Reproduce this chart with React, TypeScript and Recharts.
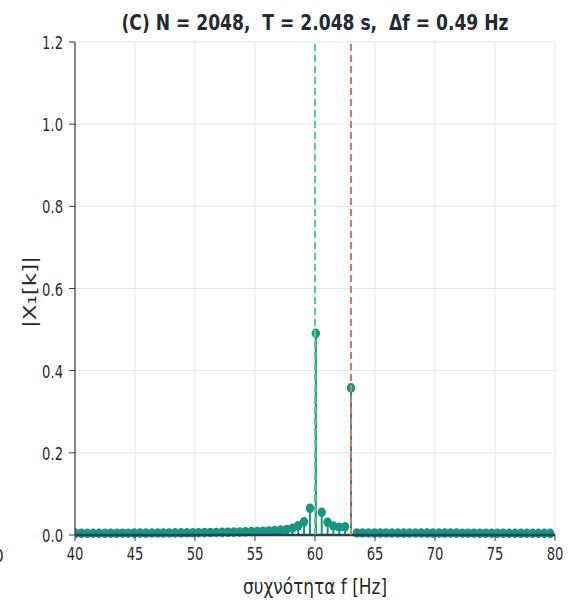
import React from "react";
import {
  ComposedChart,
  Bar,
  XAxis,
  YAxis,
  CartesianGrid,
  ReferenceLine,
} from "recharts";

// frequency bins (Δf = 0.488 Hz) between 40 and 80 Hz
const freqs = [
  40.04, 40.53, 41.02, 41.5, 41.99, 42.48, 42.97, 43.46, 43.95, 44.43,
  44.92, 45.41, 45.9, 46.39, 46.88, 47.36, 47.85, 48.34, 48.83, 49.32,
  49.8, 50.29, 50.78, 51.27, 51.76, 52.25, 52.73, 53.22, 53.71, 54.2,
  54.69, 55.18, 55.66, 56.15, 56.64, 57.13, 57.62, 58.11, 58.59, 59.08,
  59.57, 60.06, 60.55, 61.04, 61.52, 62.01, 62.5, 62.99, 63.48, 63.96,
  64.45, 64.94, 65.43, 65.92, 66.41, 66.89, 67.38, 67.87, 68.36, 68.85,
  69.34, 69.82, 70.31, 70.8, 71.29, 71.78, 72.27, 72.75, 73.24, 73.73,
  74.22, 74.71, 75.2, 75.68, 76.17, 76.66, 77.15, 77.64, 78.13, 78.61,
  79.1, 79.59,
];

// |X1[k]|
const mags = [
  0.004, 0.004, 0.0041, 0.0041, 0.0042, 0.0042, 0.0043, 0.0043, 0.0044, 0.0044,
  0.0045, 0.0046, 0.0046, 0.0047, 0.0048, 0.0049, 0.005, 0.0051, 0.0052, 0.0053,
  0.0055, 0.0056, 0.0058, 0.006, 0.0062, 0.0064, 0.0067, 0.007, 0.0073, 0.0077,
  0.0081, 0.0086, 0.0092, 0.0099, 0.0108, 0.0119, 0.0134, 0.0165, 0.0225, 0.032,
  0.065, 0.491, 0.055, 0.031, 0.022, 0.019, 0.02, 0.358, 0.005, 0.005,
  0.005, 0.0049, 0.0049, 0.0049, 0.0048, 0.0048, 0.0048, 0.0047, 0.0047, 0.0047,
  0.0046, 0.0046, 0.0046, 0.0045, 0.0045, 0.0045, 0.0044, 0.0044, 0.0044, 0.0043,
  0.0043, 0.0043, 0.0042, 0.0042, 0.0042, 0.0041, 0.0041, 0.0041, 0.004, 0.004,
  0.004, 0.004,
];

const xTicks = [40, 45, 50, 55, 60, 65, 70, 75, 80];
const yTicks = [0, 0.2, 0.4, 0.6, 0.8, 1.0, 1.2];

const data = freqs.map((f, i) => ({ f, mag: mags[i] }));

const TEAL = "#179783";
const DARK = "#2c3e50";
const INK = "#2b2b2b";
const FONT = "DejaVu Sans Condensed, DejaVu Sans, sans-serif";

const Stem = (props: any) => {
  const { x, y, width, height } = props;
  const cx = x + width / 2;
  return (
    <g>
      <line x1={cx} x2={cx} y1={y} y2={y + height} stroke={TEAL} strokeWidth={2} />
      <ellipse cx={cx} cy={y} rx={4.2} ry={4.8} fill={TEAL} />
    </g>
  );
};

// tick labels are a bit narrow in the reference, squeeze them horizontally
const XTick = (props: any) => {
  const { x, y, payload } = props;
  return (
    <text
      transform={`translate(${x},${y + 19}) scale(0.86,1)`}
      textAnchor="middle"
      fontFamily={FONT}
      fontSize={17}
      fill={INK}
    >
      {payload.value}
    </text>
  );
};

const YTick = (props: any) => {
  const { x, y, payload } = props;
  return (
    <text
      transform={`translate(${x},${y + 7}) scale(0.86,1)`}
      textAnchor="end"
      fontFamily={FONT}
      fontSize={17}
      fill={INK}
    >
      {Number(payload.value).toFixed(1)}
    </text>
  );
};

export default function App() {
  return (
    <div style={{ position: "absolute", left: 0, top: 0, width: 587, height: 600, background: "#fff" }}>
      <ComposedChart
        width={587}
        height={600}
        data={data}
        margin={{ top: 42, right: 32, bottom: 0, left: 0 }}
      >
        <CartesianGrid stroke="#e1e5e8" strokeWidth={1} />
        <XAxis
          dataKey="f"
          type="number"
          domain={[40, 80]}
          ticks={xTicks}
          allowDataOverflow
          height={65}
          tick={<XTick />}
          tickSize={6}
          tickMargin={0}
          axisLine={{ stroke: DARK, strokeWidth: 1.2 }}
          tickLine={{ stroke: DARK }}
        />
        <YAxis
          type="number"
          domain={[0, 1.2]}
          ticks={yTicks}
          width={75}
          tick={<YTick />}
          tickSize={6}
          tickMargin={6}
          axisLine={{ stroke: DARK, strokeWidth: 1.2 }}
          tickLine={{ stroke: DARK }}
        />
        <Bar dataKey="mag" barSize={2} shape={<Stem />} isAnimationActive={false} />
        <ReferenceLine y={0} stroke={DARK} strokeWidth={2.5} />
        <ReferenceLine x={60} stroke="#55d087" strokeWidth={2} strokeDasharray="7 4" />
        <ReferenceLine x={63} stroke="#e8705f" strokeWidth={2} strokeDasharray="7 4" />
      </ComposedChart>
      <svg
        width={587}
        height={600}
        style={{ position: "absolute", left: 0, top: 0, pointerEvents: "none" }}
      >
        <text
          x={315}
          y={30}
          textAnchor="middle"
          fontFamily={FONT}
          fontWeight="bold"
          fontSize={22}
          fill="#222a33"
          textLength={387}
          lengthAdjust="spacingAndGlyphs"
          style={{ whiteSpace: "pre" }}
        >
          {"(C) N = 2048,  T = 2.048 s,  Δf = 0.49 Hz"}
        </text>
        <text
          x={315}
          y={594}
          textAnchor="middle"
          fontFamily={FONT}
          fontSize={21}
          fill={INK}
          textLength={144}
          lengthAdjust="spacingAndGlyphs"
        >
          συχνότητα f [Hz]
        </text>
        <text
          transform="translate(36,292) rotate(-90) scale(1,0.86)"
          textAnchor="middle"
          fontFamily={FONT}
          fontSize={21}
          fill={INK}
          textLength={72}
          lengthAdjust="spacingAndGlyphs"
        >
          |X₁[k]|
        </text>
        <text x={-6} y={562} fontFamily={FONT} fontSize={17} fill={INK}>
          0
        </text>
      </svg>
    </div>
  );
}
